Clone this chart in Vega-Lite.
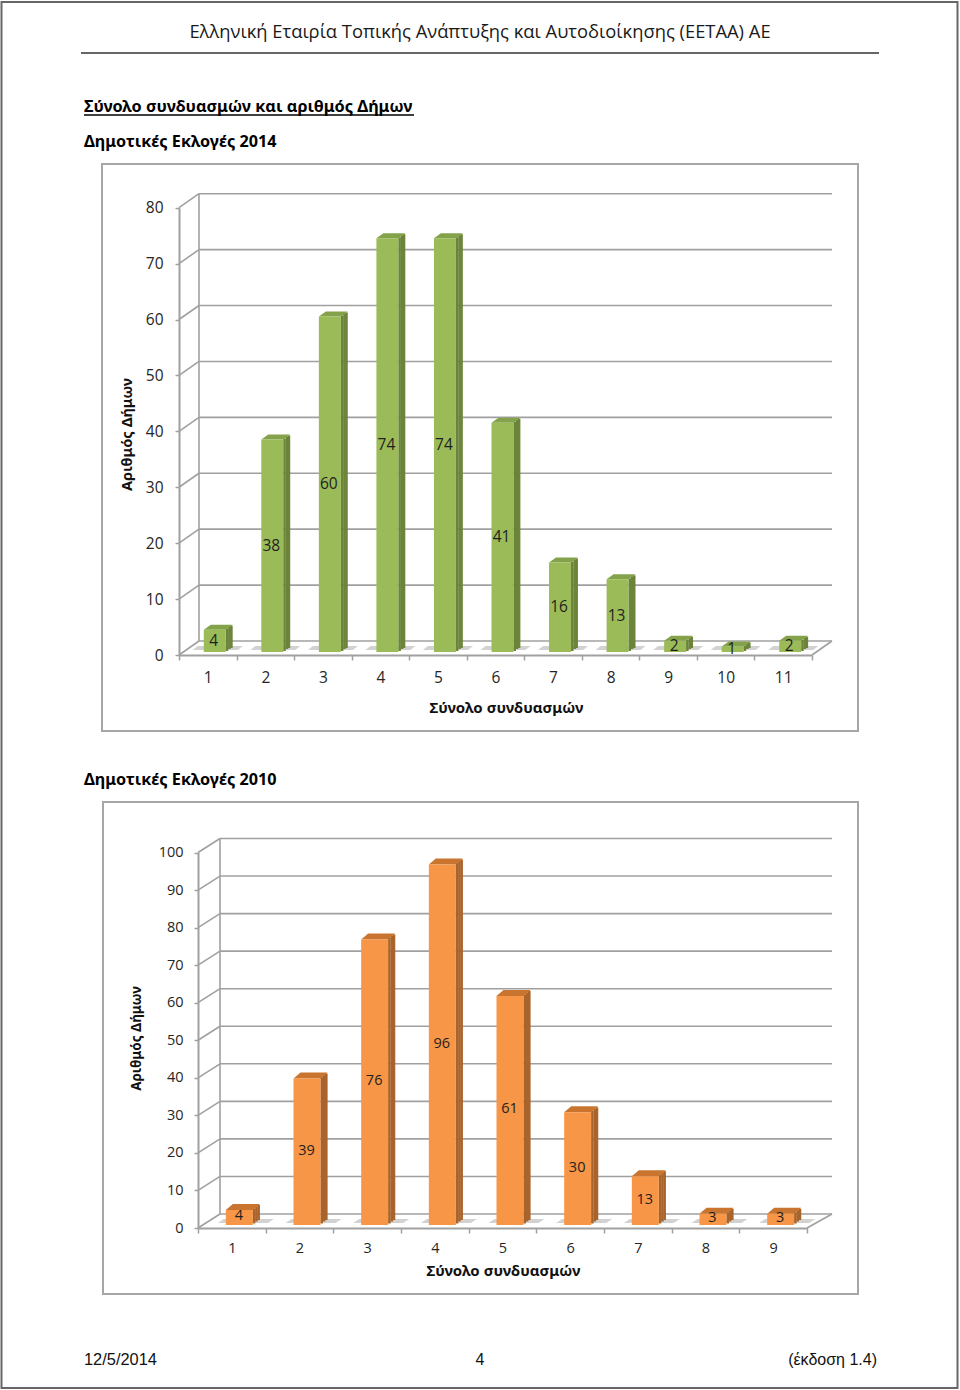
{"$schema":"https://vega.github.io/schema/vega-lite/v6.json","width":960,"height":1390,"autosize":{"type":"fit","contains":"padding"},"padding":0,"background":"white","config":{"view":{"stroke":null},"axis":{"domainColor":"#a0a0a0","tickColor":"#a0a0a0","labelColor":"#262626","titleColor":"#111111","grid":false}},"data":{"values":[{}]},"resolve":{"scale":{"x":"independent","y":"independent"},"axis":{"x":"independent","y":"independent"}},"layer":[
{"data":{"values":[{}]},"mark":{"type":"rect","fill":"transparent","stroke":"#666666","strokeWidth":2},"encoding":{"x":{"datum":0,"type":"quantitative","axis":null,"scale":{"domain":[0,1],"range":[1.5,957.5]}},"x2":{"datum":1},"y":{"datum":0,"type":"quantitative","axis":null,"scale":{"domain":[0,1],"range":[2,1388]}},"y2":{"datum":1}}},
{"data":{"values":[{}]},"mark":{"type":"rule","stroke":"#666666","strokeWidth":2},"encoding":{"x":{"datum":0,"type":"quantitative","axis":null,"scale":{"domain":[0,1],"range":[81,879]}},"x2":{"datum":1},"y":{"datum":0,"type":"quantitative","axis":null,"scale":{"domain":[0,1],"range":[53,53]}}}},
{"data":{"values":[{}]},"mark":{"type":"rule","stroke":"#000000","strokeWidth":1.5},"encoding":{"x":{"datum":0,"type":"quantitative","axis":null,"scale":{"domain":[0,1],"range":[84,414]}},"x2":{"datum":1},"y":{"datum":0,"type":"quantitative","axis":null,"scale":{"domain":[0,1],"range":[115,115]}}}},
{"data":{"values":[{"label":"Ελληνική Εταιρία Τοπικής Ανάπτυξης και Αυτοδιοίκησης (ΕΕΤΑΑ) ΑΕ"}]},"mark":{"type":"text","font":"Open Sans","fontSize":18.35,"align":"center","baseline":"middle","color":"#1a1a1a"},"encoding":{"text":{"field":"label"},"x":{"field":"label","type":"nominal","axis":null,"scale":{"range":[480,480]}},"y":{"field":"label","type":"nominal","axis":null,"scale":{"range":[32,32]}}}},
{"data":{"values":[{"label":"Σύνολο συνδυασμών και αριθμός Δήμων"}]},"mark":{"type":"text","font":"Noto Sans","fontWeight":"bold","fontSize":16.3,"align":"left","baseline":"middle","color":"#000000"},"encoding":{"text":{"field":"label"},"x":{"field":"label","type":"nominal","axis":null,"scale":{"range":[84,84]}},"y":{"field":"label","type":"nominal","axis":null,"scale":{"range":[107,107]}}}},
{"data":{"values":[{"label":"Δημοτικές Εκλογές 2014"}]},"mark":{"type":"text","font":"Noto Sans","fontWeight":"bold","fontSize":16.2,"align":"left","baseline":"middle","color":"#000000"},"encoding":{"text":{"field":"label"},"x":{"field":"label","type":"nominal","axis":null,"scale":{"range":[84,84]}},"y":{"field":"label","type":"nominal","axis":null,"scale":{"range":[142,142]}}}},
{"data":{"values":[{"label":"Δημοτικές Εκλογές 2010"}]},"mark":{"type":"text","font":"Noto Sans","fontWeight":"bold","fontSize":16.2,"align":"left","baseline":"middle","color":"#000000"},"encoding":{"text":{"field":"label"},"x":{"field":"label","type":"nominal","axis":null,"scale":{"range":[84,84]}},"y":{"field":"label","type":"nominal","axis":null,"scale":{"range":[780,780]}}}},
{"data":{"values":[{"label":"12/5/2014"}]},"mark":{"type":"text","font":"Liberation Sans","fontSize":16.4,"align":"left","baseline":"middle","color":"#111111"},"encoding":{"text":{"field":"label"},"x":{"field":"label","type":"nominal","axis":null,"scale":{"range":[84,84]}},"y":{"field":"label","type":"nominal","axis":null,"scale":{"range":[1360,1360]}}}},
{"data":{"values":[{"label":"4"}]},"mark":{"type":"text","font":"Liberation Sans","fontSize":16,"align":"center","baseline":"middle","color":"#111111"},"encoding":{"text":{"field":"label"},"x":{"field":"label","type":"nominal","axis":null,"scale":{"range":[480,480]}},"y":{"field":"label","type":"nominal","axis":null,"scale":{"range":[1360,1360]}}}},
{"data":{"values":[{"label":"(έκδοση 1.4)"}]},"mark":{"type":"text","font":"Liberation Sans","fontSize":16,"align":"right","baseline":"middle","color":"#111111"},"encoding":{"text":{"field":"label"},"x":{"field":"label","type":"nominal","axis":null,"scale":{"range":[877,877]}},"y":{"field":"label","type":"nominal","axis":null,"scale":{"range":[1360,1360]}}}},

{"data":{"values":[{}]},"mark":{"type":"rect","fill":"transparent","stroke":"#a6a6a6","strokeWidth":2},"encoding":{"x":{"datum":0,"type":"quantitative","axis":null,"scale":{"domain":[0,1],"range":[102,858]}},"x2":{"datum":1},"y":{"datum":0,"type":"quantitative","axis":null,"scale":{"domain":[0,1],"range":[164,731]}},"y2":{"datum":1}}},
{"data":{"values":[{"tick":0},{"tick":10},{"tick":20},{"tick":30},{"tick":40},{"tick":50},{"tick":60},{"tick":70},{"tick":80}]},
 "encoding":{"x":{"datum":0,"type":"quantitative","axis":null,"scale":{"domain":[0,1],"range":[199,832]}},"y":{"field":"tick","type":"quantitative","axis":null,"scale":{"domain":[0,80],"range":[655,207.7],"nice":false,"zero":false}}},
 "layer":[
  {"mark":{"type":"rule","stroke":"#a0a0a0","strokeWidth":1.6,"yOffset":-14,"y2Offset":-14},"encoding":{"x2":{"datum":1},"y2":{"field":"tick"}}},
  {"mark":{"type":"rule","stroke":"#a0a0a0","strokeWidth":1.6,"xOffset":-20,"y2Offset":-14},"encoding":{"x2":{"datum":0},"y2":{"field":"tick"}}},
  {"transform":[{"filter":"datum.tick === 0"}],"mark":{"type":"rule","stroke":"#a0a0a0","strokeWidth":1.6,"xOffset":-20,"y2Offset":-14},"encoding":{"x":{"datum":1,"type":"quantitative"},"x2":{"datum":1},"y2":{"field":"tick"}}},
  {"transform":[{"filter":"datum.tick === 0"}],"mark":{"type":"rule","stroke":"#a0a0a0","strokeWidth":1.6,"yOffset":-14,"y2Offset":-14},"encoding":{"y2":{"datum":80}}}
 ]},
{"data":{"values":[{"c":1,"v":4},{"c":2,"v":38},{"c":3,"v":60},{"c":4,"v":74},{"c":5,"v":74},{"c":6,"v":41},{"c":7,"v":16},{"c":8,"v":13},{"c":9,"v":2},{"c":10,"v":1},{"c":11,"v":2}]},
 "encoding":{"x":{"field":"c","type":"ordinal","scale":{"type":"band","range":[179,812],"paddingInner":0,"paddingOuter":0},"axis":{"orient":"bottom","title":"Σύνολο συνδυασμών","titleFont":"Noto Sans","titleFontWeight":"bold","titleFontSize":15,"titleX":506,"titleY":45,"titleAnchor":"middle","titleAlign":"center","offset":-735,"labelAngle":0,"labelFont":"Open Sans","labelFontSize":15.5,"labelPadding":10,"tickBand":"extent","tickSize":5,"tickWidth":1.5,"domainWidth":2}},
  "y":{"field":"v","type":"quantitative","scale":{"domain":[0,80],"range":[655,207.7],"nice":false,"zero":false},"axis":{"orient":"left","title":"Αριθμός Δήμων","titleFont":"Noto Sans","titleFontWeight":"bold","titleFontSize":14.6,"titleAngle":-90,"titleX":-52,"titleY":434,"titleAlign":"center","titleBaseline":"middle","offset":-179,"values":[0,10,20,30,40,50,60,70,80],"labelFont":"Open Sans","labelFontSize":15.5,"labelPadding":12,"tickSize":4,"tickWidth":1.5,"domainWidth":2}}},
 "layer":[
  {"mark":{"type":"point","filled":true,"size":4,"opacity":1,"color":"#d2d2d2","shape":"M-15,-5 L30,-5 L35,-9 L-10,-9 Z"},"encoding":{"y":{"datum":0,"type":"quantitative"}}},
  {"mark":{"type":"bar","width":2.6,"color":"#6b843a","xOffset":19.2,"yOffset":-4,"y2Offset":-5}},
  {"mark":{"type":"bar","width":2.6,"color":"#6b843a","xOffset":21.6,"yOffset":-6,"y2Offset":-7}},
  {"mark":{"type":"bar","width":2.6,"color":"#6b843a","xOffset":23.6,"yOffset":-7,"y2Offset":-8}},
  {"mark":{"type":"point","filled":true,"size":4,"opacity":1,"color":"#84a24a","shape":"M-4,0 L18,0 L25,-5 L3,-5 Z","yOffset":-3}},
  {"mark":{"type":"bar","width":22,"color":"#9bbb59","xOffset":7,"yOffset":-3,"y2Offset":-4}},
  {"mark":{"type":"text","font":"Open Sans","fontSize":15.5,"color":"#1f1f1f","xOffset":6,"yOffset":-3,"baseline":"middle"},"encoding":{"text":{"field":"v","type":"quantitative"},"y":{"field":"v","type":"quantitative","stack":"zero","bandPosition":0.5}}}
 ]},

{"data":{"values":[{}]},"mark":{"type":"rect","fill":"transparent","stroke":"#a6a6a6","strokeWidth":2},"encoding":{"x":{"datum":0,"type":"quantitative","axis":null,"scale":{"domain":[0,1],"range":[103,858]}},"x2":{"datum":1},"y":{"datum":0,"type":"quantitative","axis":null,"scale":{"domain":[0,1],"range":[802,1294]}},"y2":{"datum":1}}},
{"data":{"values":[{"tick":0},{"tick":10},{"tick":20},{"tick":30},{"tick":40},{"tick":50},{"tick":60},{"tick":70},{"tick":80},{"tick":90},{"tick":100}]},
 "encoding":{"x":{"datum":0,"type":"quantitative","axis":null,"scale":{"domain":[0,1],"range":[220,832]}},"y":{"field":"tick","type":"quantitative","axis":null,"scale":{"domain":[0,100],"range":[1228,852.5],"nice":false,"zero":false}}},
 "layer":[
  {"mark":{"type":"rule","stroke":"#a0a0a0","strokeWidth":1.6,"yOffset":-14,"y2Offset":-14},"encoding":{"x2":{"datum":1},"y2":{"field":"tick"}}},
  {"mark":{"type":"rule","stroke":"#a0a0a0","strokeWidth":1.6,"xOffset":-22,"y2Offset":-14},"encoding":{"x2":{"datum":0},"y2":{"field":"tick"}}},
  {"transform":[{"filter":"datum.tick === 0"}],"mark":{"type":"rule","stroke":"#a0a0a0","strokeWidth":1.6,"xOffset":-25,"y2Offset":-14},"encoding":{"x":{"datum":1,"type":"quantitative"},"x2":{"datum":1},"y2":{"field":"tick"}}},
  {"transform":[{"filter":"datum.tick === 0"}],"mark":{"type":"rule","stroke":"#a0a0a0","strokeWidth":1.6,"yOffset":-14,"y2Offset":-14},"encoding":{"y2":{"datum":100}}}
 ]},
{"data":{"values":[{"c":1,"v":4},{"c":2,"v":39},{"c":3,"v":76},{"c":4,"v":96},{"c":5,"v":61},{"c":6,"v":30},{"c":7,"v":13},{"c":8,"v":3},{"c":9,"v":3}]},
 "encoding":{"x":{"field":"c","type":"ordinal","scale":{"type":"band","range":[198,807],"paddingInner":0,"paddingOuter":0},"axis":{"orient":"bottom","title":"Σύνολο συνδυασμών","titleFont":"Noto Sans","titleFontWeight":"bold","titleFontSize":15,"titleX":503,"titleY":35,"titleAnchor":"middle","titleAlign":"center","offset":-162,"labelAngle":0,"labelFont":"Open Sans","labelFontSize":14.5,"labelPadding":8,"tickBand":"extent","tickSize":5,"tickWidth":1.5,"domainWidth":2}},
  "y":{"field":"v","type":"quantitative","scale":{"domain":[0,100],"range":[1228,852.5],"nice":false,"zero":false},"axis":{"orient":"left","title":"Αριθμός Δήμων","titleFont":"Noto Sans","titleFontWeight":"bold","titleFontSize":13.5,"titleAngle":-90,"titleX":-62,"titleY":1038,"titleAlign":"center","titleBaseline":"middle","offset":-198,"values":[0,10,20,30,40,50,60,70,80,90,100],"labelFont":"Open Sans","labelFontSize":14.5,"labelPadding":11,"tickSize":4,"tickWidth":1.5,"domainWidth":2}}},
 "layer":[
  {"mark":{"type":"point","filled":true,"size":4,"opacity":1,"color":"#d2d2d2","shape":"M-14,-5 L36,-5 L42,-9 L-8,-9 Z"},"encoding":{"y":{"datum":0,"type":"quantitative"}}},
  {"mark":{"type":"bar","width":2.6,"color":"#a9642b","xOffset":22.2,"yOffset":-4.5,"y2Offset":-6.5}},
  {"mark":{"type":"bar","width":2.6,"color":"#a9642b","xOffset":24.6,"yOffset":-6.5,"y2Offset":-8.5}},
  {"mark":{"type":"bar","width":2.6,"color":"#a9642b","xOffset":26.8,"yOffset":-8,"y2Offset":-10}},
  {"mark":{"type":"point","filled":true,"size":4,"opacity":1,"color":"#c9752f","shape":"M-6,0 L21,0 L28,-6 L1,-6 Z","yOffset":-3}},
  {"mark":{"type":"bar","width":27,"color":"#f79646","xOffset":7.5,"yOffset":-3,"y2Offset":-5}},
  {"mark":{"type":"text","font":"Open Sans","fontSize":14.5,"color":"#1f1f1f","xOffset":7,"yOffset":-4,"baseline":"middle"},"encoding":{"text":{"field":"v","type":"quantitative"},"y":{"field":"v","type":"quantitative","stack":"zero","bandPosition":0.5}}}
 ]}
]}
